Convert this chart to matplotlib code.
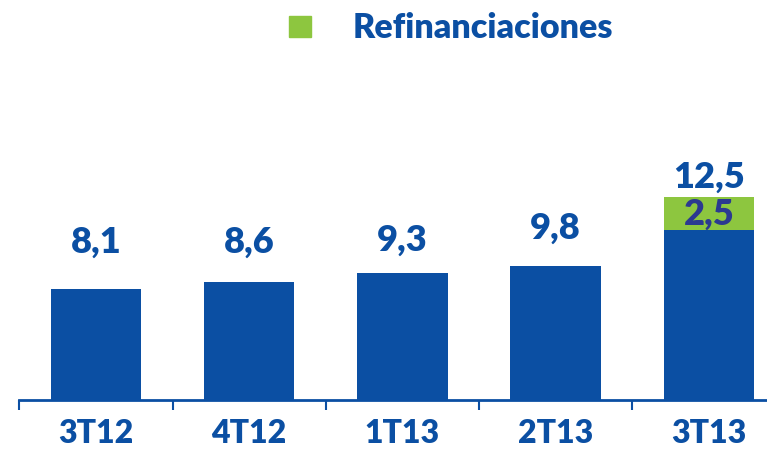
import matplotlib.pyplot as plt
from matplotlib.patches import Rectangle

# datos
trimestres = ['3T12', '4T12', '1T13', '2T13', '3T13']
base = [8.1, 8.6, 9.3, 9.8, 12.4]          # altura dibujada de la barra azul
refin = [0, 0, 0, 0, 2.4]                   # altura dibujada de la parte verde
etiquetas = ['8,1', '8,6', '9,3', '9,8', '12,5']
etiqueta_refin = '2,5'

azul = '#0b4fa3'
verde = '#8dc63f'
marino = '#2b3990'
fuente = 'Lato'
separacion = [2.7, 2.25, 1.7, 2.05, 0.75]  # hueco entre barra y cifra

fig = plt.figure(figsize=(7.67, 4.52), dpi=100)
fig.patch.set_facecolor('white')
ax = fig.add_axes([19.4 / 767, 51 / 452, 1 - 19.4 / 767, 383.6 / 452])

x = range(len(trimestres))
ax.bar(x, base, width=0.59, color=azul, zorder=2)
ax.bar(x, refin, width=0.59, bottom=base, color=verde, zorder=2)

for i in x:
    top = base[i] + refin[i]
    ax.text(i, top + separacion[i], etiquetas[i], ha='center', va='baseline', color=azul,
            fontsize=26, fontweight='heavy', family=fuente)
ax.text(4, base[4] + 0.5, etiqueta_refin, ha='center', va='baseline',
        color=marino, fontsize=26, fontweight='heavy', family=fuente)

ax.set_xlim(-0.5, (767 - 96) / 153.2)
ax.set_ylim(0, 28)
for s in ['top', 'right', 'left']:
    ax.spines[s].set_visible(False)
ax.spines['bottom'].set_color(azul)
ax.spines['bottom'].set_linewidth(2)
ax.set_yticks([])
ax.set_xticks([i - 0.5 for i in x], minor=False)
ax.set_xticklabels([])
ax.tick_params(axis='x', which='major', length=7, width=1.5, color=azul, direction='out')
ax.set_xticks(list(x), minor=True)
ax.set_xticklabels(trimestres, minor=True)
ax.tick_params(axis='x', which='minor', length=0, pad=13, labelsize=23, labelcolor=azul)
for t in ax.get_xticklabels(minor=True):
    t.set_fontweight('heavy')
    t.set_family(fuente)

# leyenda
fig.patches.append(Rectangle((289 / 767, 1 - 38 / 452), 22 / 767, 21 / 452,
                             transform=fig.transFigure, color=verde))
fig.text(353 / 767, 1 - 28 / 452, 'Refinanciaciones', ha='left', va='center',
         color=azul, fontsize=24.5, fontweight='heavy', family=fuente)

fig.savefig('out.png', dpi=100)
